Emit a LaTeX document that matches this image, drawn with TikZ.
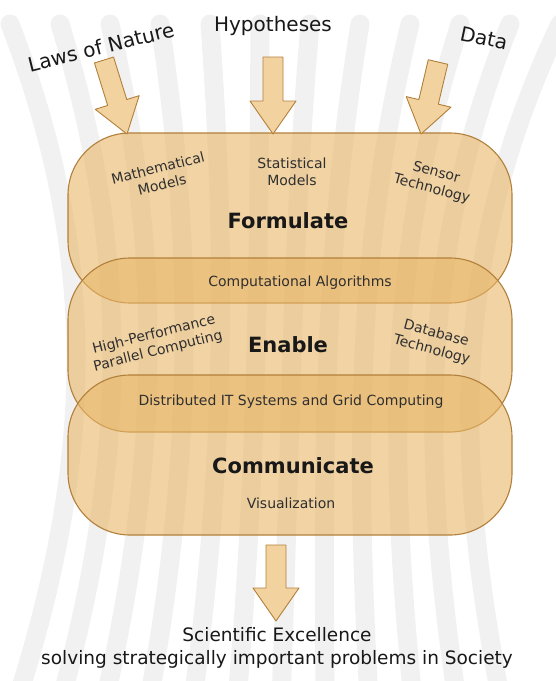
\documentclass[tikz,border=0pt]{standalone}
\usepackage{fontspec}
\setmainfont{DejaVu Sans}
\usetikzlibrary{positioning,calc}
\definecolor{pipetan}{RGB}{232,182,104}
\definecolor{arrowtan}{RGB}{242,211,160}
\definecolor{pipeedge}{RGB}{178,128,58}
\definecolor{stripegray}{RGB}{241,241,241}
\definecolor{inktext}{RGB}{24,24,24}

% block arrow from tail #1 to tip #2
\newcommand{\fatarrow}[2]{%
  \coordinate (tiphead) at ($(#2)!33pt!(#1)$);
  \draw[blockarrow] ($(#1)!10pt!90:(#2)$) -- ($(tiphead)!10pt!90:(#2)$)
    -- ($(tiphead)!23pt!90:(#2)$) -- (#2) -- ($(tiphead)!23pt!-90:(#2)$)
    -- ($(tiphead)!10pt!-90:(#2)$) -- ($(#1)!10pt!-90:(#2)$) -- cycle;}

\begin{document}
\begin{tikzpicture}[x=1pt, y=-1pt,
    stage/.style={draw=pipeedge, line width=1.1pt, fill=pipetan, fill opacity=0.6,
                  rounded corners=62pt, minimum width=444pt, inner sep=0pt},
    stagename/.style={font=\fontsize{21}{25}\selectfont\bfseries, text=inktext},
    note/.style={font=\fontsize{14}{17}\selectfont, align=center, text=inktext!90},
    source/.style={font=\fontsize{20}{24}\selectfont, text=inktext},
    stripe/.style={draw=stripegray, line width=19pt, line cap=round},
    blockarrow/.style={draw=pipeedge, fill=arrowtan, line width=0.9pt, line join=round}]
  \useasboundingbox (0,0) rectangle (556,681);

  % fan of grey stripes behind everything
  \begin{scope}
    \clip (0,0) rectangle (556,681);
    \foreach \i in {-6,...,5} {
      \pgfmathsetmacro{\xt}{285+50*(\i+0.5)}
      \pgfmathsetmacro{\xb}{281+44*\i}
      \pgfmathsetmacro{\xm}{283+36*(\i+0.25)}
      \pgfmathsetmacro{\xc}{(8*\xm-\xt-\xb)/6}
      \draw[stripe] (\xt,24) .. controls (\xc,250) and (\xc,450) .. (\xb,700);
    }
  \end{scope}

  % the three stages
  \node[stage, minimum height=170pt] (formulate) at (290,218) {};
  \node[stage, minimum height=174pt] (enable) at (290,345) {};
  \node[stage, minimum height=160pt] (communicate) at (290,455) {};

  \node[stagename] (formulateT) at (288,221) {Formulate};
  \node[stagename] (enableT) at (288,345) {Enable};
  \node[stagename] (communicateT) at (293,466) {Communicate};

  \node[note, rotate=14] (math) at (160,176) {Mathematical\\Models};
  \node[note] (stat) at (292,172) {Statistical\\Models};
  \node[note, rotate=-15] (sensor) at (434,181) {Sensor\\Technology};
  \node[note] (algo) at (300,283) {Computational Algorithms};
  \node[note, rotate=14] (hpc) at (156,343) {High-Performance\\Parallel Computing};
  \node[note, rotate=-15] (dbase) at (434,342) {Database\\Technology};
  \node[note] (grid) at (291,402) {Distributed IT Systems and Grid Computing};
  \node[note] (visual) at (291,503) {Visualization};

  % inputs on top
  \node[source, rotate=14] (laws) at (101,47) {Laws of Nature};
  \node[source] (hypo) at (273,26) {Hypotheses};
  \node[source, rotate=-12] (data) at (484,38) {Data};

  \coordinate (lawsIn) at (104,60);
  \coordinate (lawsTip) at (127,134);
  \coordinate (hypoIn) at (273,57);
  \coordinate (hypoTip) at (273,134);
  \coordinate (dataIn) at (438,62);
  \coordinate (dataTip) at (421,134);
  \coordinate (outIn) at (276,545);
  \coordinate (outTip) at (276,621);

  \fatarrow{lawsIn}{lawsTip}
  \fatarrow{hypoIn}{hypoTip}
  \fatarrow{dataIn}{dataTip}
  \fatarrow{outIn}{outTip}

  % result
  \node[source, font=\fontsize{18.5}{23}\selectfont, align=center] (result) at (277,648)
    {Scientific Excellence\\solving strategically important problems in Society};
\end{tikzpicture}
\end{document}
